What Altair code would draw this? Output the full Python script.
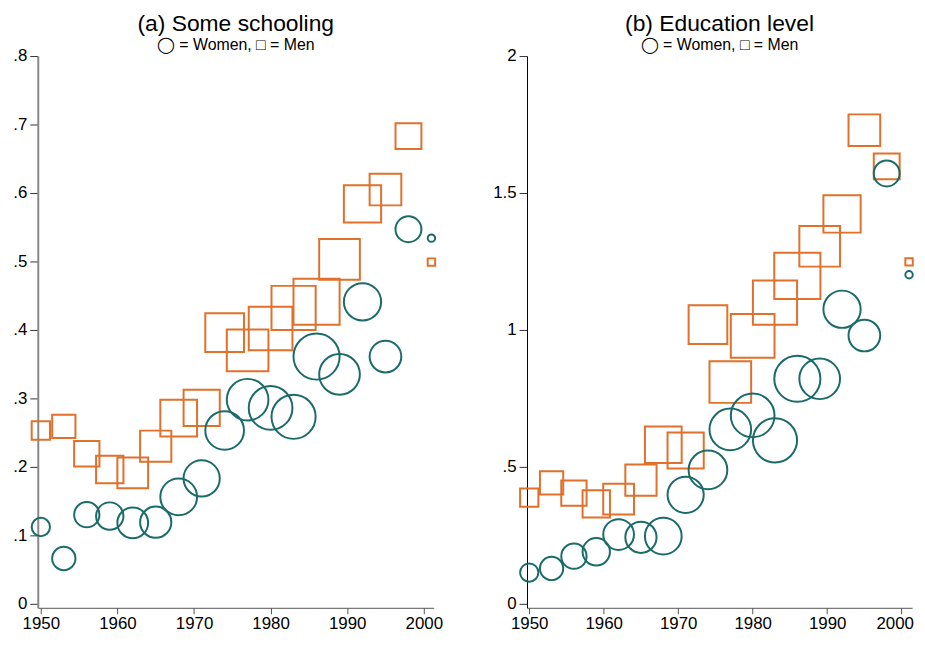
import altair as alt
import pandas as pd

years = [1950, 1953, 1956, 1959, 1962, 1965, 1968, 1971, 1974, 1977,
         1980, 1983, 1986, 1989, 1992, 1995, 1998, 2001]
cohort_weight = [3.4, 5.5, 6.5, 7.6, 9.6, 9.9, 13.7, 13.3, 15.2, 17.6,
                 19.4, 19.8, 21.6, 16.8, 14.1, 10.2, 6.8, 0.56]
school_women = [0.112, 0.066, 0.130, 0.128, 0.118, 0.119, 0.156, 0.183, 0.253, 0.298,
                0.286, 0.273, 0.361, 0.335, 0.441, 0.361, 0.547, 0.534]
school_men = [0.253, 0.259, 0.219, 0.196, 0.191, 0.230, 0.271, 0.286, 0.396, 0.370,
              0.402, 0.432, 0.441, 0.503, 0.584, 0.605, 0.683, 0.499]
educ_women = [0.113, 0.128, 0.173, 0.189, 0.252, 0.242, 0.246, 0.397, 0.488, 0.636,
              0.687, 0.596, 0.821, 0.821, 1.075, 0.979, 1.571, 1.201]
educ_men = [0.387, 0.441, 0.403, 0.364, 0.381, 0.451, 0.580, 0.559, 1.019, 0.809,
            0.978, 1.099, 1.197, 1.305, 1.423, 1.729, 1.597, 1.248]

x_ticks = [1950, 1960, 1970, 1980, 1990, 2000]
left_yticks = [0, 0.1, 0.2, 0.3, 0.4, 0.5, 0.6, 0.7, 0.8]
right_yticks = [0, 0.5, 1, 1.5, 2]

TEAL = "#1b6b6b"
ORANGE = "#e0702a"
FONT = "Liberation Sans"


def panel(women, men, title, ydomain, yticks, xdomain, ycolor, ywidth, width, last_shift):
    n = len(years)
    df = pd.DataFrame({
        "year": years + years,
        "value": men + women,
        "weight": cohort_weight + cohort_weight,
        "sex": ["Men"] * n + ["Women"] * n,
    })
    return alt.Chart(df).mark_point(filled=False, strokeWidth=2, opacity=1).encode(
        x=alt.X("year:Q",
                scale=alt.Scale(domain=xdomain, nice=False, zero=False),
                axis=alt.Axis(values=x_ticks, format="d", title=None, grid=False,
                              labelFlush=False, labelFontSize=17, labelFont=FONT,
                              labelColor="black", domainColor="#555", tickColor="#555",
                              tickSize=6, labelPadding=2,
                              labelOffset={"condition": {"test": "datum.value == 2000",
                                                         "value": last_shift},
                                           "value": 0})),
        y=alt.Y("value:Q",
                scale=alt.Scale(domain=ydomain, nice=False, zero=False),
                axis=alt.Axis(values=yticks, title=None, grid=False,
                              labelExpr="datum.value == 0 ? '0' : (datum.value < 1 ? substring(format(datum.value, '.1f'), 1) : toString(datum.value))",
                              labelFontSize=17, labelFont=FONT, labelColor="black",
                              domainColor=ycolor, domainWidth=ywidth, tickColor="#333",
                              tickSize=8, labelPadding=3)),
        size=alt.Size("weight:Q", scale=alt.Scale(domain=[0, 25], range=[0, 2500]), legend=None),
        shape=alt.Shape("sex:N", scale=alt.Scale(domain=["Women", "Men"], range=["circle", "square"]), legend=None),
        color=alt.Color("sex:N", scale=alt.Scale(domain=["Women", "Men"], range=[TEAL, ORANGE]), legend=None),
        order=alt.value(0),
    ).properties(
        width=width, height=556,
        title=alt.TitleParams(text=title, subtitle="◯ = Women, □ = Men", fontSize=23,
                              font=FONT, fontWeight="normal", color="black",
                              subtitleFont=FONT, subtitleFontSize=16, subtitleColor="black",
                              anchor="middle", offset=-6, subtitlePadding=1),
    )


left = panel(school_women, school_men, "(a) Some schooling", [-0.006, 0.8], left_yticks,
             [1949.6, 2001.3], "#888888", 2, 399, 0)
right = panel(educ_women, educ_men, "(b) Education level", [-0.0156, 2.0], right_yticks,
              [1949.7, 2001.4], "black", 1, 388, -7)

chart = alt.hconcat(left, right, spacing=50).properties(
    padding={"left": 4, "top": 3, "right": 0, "bottom": 0}
).configure_view(stroke=None)

chart.save("out.html", embed_options={"renderer": "svg", "actions": False})
